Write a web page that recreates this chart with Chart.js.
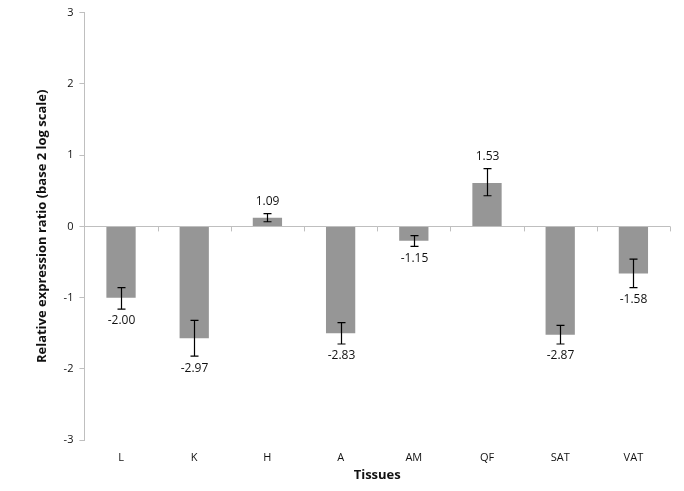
<!DOCTYPE html>
<html>
<head>
<meta charset="utf-8">
<script src="https://cdn.jsdelivr.net/npm/chart.js@4.4.0/dist/chart.umd.min.js"></script>
<style>
  html, body { margin: 0; padding: 0; background: #fff; }
  #wrap { width: 684px; height: 491px; }
</style>
</head>
<body>
<div id="wrap"><canvas id="tissueChart"></canvas></div>
<script>
const tissues = ["L", "K", "H", "A", "AM", "QF", "SAT", "VAT"];
// log2 ratio (bar height)
const log2Ratio = [-1.00, -1.57, 0.12, -1.50, -0.20, 0.61, -1.52, -0.66];
// error bar ends
const errHigh = [-0.86, -1.32, 0.18, -1.35, -0.13, 0.81, -1.39, -0.46];
const errLow = [-1.16, -1.82, 0.065, -1.65, -0.28, 0.43, -1.65, -0.86];
// fold change labels
const foldLabels = ["-2.00", "-2.97", "1.09", "-2.83", "-1.15", "1.53", "-2.87", "-1.58"];
const yTicks = [-3, -2, -1, 0, 1, 2, 3];

const axisGray = "#bfbfbf";
const fontFam = "'Open Sans', 'Liberation Sans', sans-serif";

// error bars, value labels and the category ticks on the zero line
const extrasPlugin = {
  id: "extras",
  afterDatasetsDraw(chart) {
    const ctx = chart.ctx;
    const x = chart.scales.x;
    const y = chart.scales.y;
    const y0 = y.getPixelForValue(0);
    const step = x.getPixelForValue(1) - x.getPixelForValue(0);

    ctx.save();
    ctx.strokeStyle = axisGray;
    ctx.lineWidth = 1;
    for (let i = 1; i <= tissues.length; i++) {
      const bx = Math.round(x.getPixelForValue(i - 1) + step / 2) + 0.5;
      ctx.beginPath();
      ctx.moveTo(bx, y0);
      ctx.lineTo(bx, y0 + 5);
      ctx.stroke();
    }

    ctx.strokeStyle = "#000";
    ctx.lineWidth = 1.2;
    ctx.font = "12px " + fontFam;
    ctx.fillStyle = "#111";
    ctx.textAlign = "center";
    ctx.textBaseline = "middle";
    tissues.forEach((t, i) => {
      const cx = Math.round(x.getPixelForValue(i)) + 0.5;
      const yh = y.getPixelForValue(errHigh[i]);
      const yl = y.getPixelForValue(errLow[i]);
      ctx.beginPath();
      ctx.moveTo(cx, yh);
      ctx.lineTo(cx, yl);
      ctx.moveTo(cx - 4, yh);
      ctx.lineTo(cx + 4, yh);
      ctx.moveTo(cx - 4, yl);
      ctx.lineTo(cx + 4, yl);
      ctx.stroke();

      if (log2Ratio[i] < 0) {
        ctx.fillText(foldLabels[i], cx, yl + 12);
      } else {
        ctx.fillText(foldLabels[i], cx, yh - 12);
      }
    });
    ctx.restore();
  }
};

new Chart(document.getElementById("tissueChart"), {
  type: "bar",
  data: {
    labels: tissues,
    datasets: [{
      data: log2Ratio,
      backgroundColor: "#969696",
      borderWidth: 0,
      barPercentage: 0.4,
      categoryPercentage: 1.0
    }]
  },
  options: {
    responsive: true,
    maintainAspectRatio: false,
    animation: false,
    layout: { padding: { top: 5, right: 14, left: 30, bottom: 4 } },
    plugins: {
      legend: { display: false },
      tooltip: { enabled: false }
    },
    scales: {
      x: {
        grid: { display: false },
        border: { display: false },
        ticks: { color: "#111", font: { size: 11, family: fontFam }, padding: 3 },
        title: {
          display: true,
          text: "Tissues",
          color: "#111",
          font: { size: 13, weight: "bold", family: fontFam },
          padding: { top: 0 }
        }
      },
      y: {
        min: -3,
        max: 3,
        afterBuildTicks(axis) {
          axis.ticks = yTicks.map(v => ({ value: v }));
        },
        grid: {
          drawOnChartArea: true,
          color: c => (c.tick && c.tick.value === 0 ? axisGray : "rgba(0,0,0,0)"),
          tickColor: axisGray,
          tickLength: 5
        },
        border: { color: axisGray },
        ticks: { color: "#111", font: { size: 11, family: fontFam }, padding: 6 },
        title: {
          display: true,
          text: "Relative expression ratio (base 2 log scale)",
          color: "#111",
          font: { size: 13, weight: "bold", family: fontFam },
          padding: { bottom: 8 }
        }
      }
    }
  },
  plugins: [extrasPlugin]
});
</script>
</body>
</html>
